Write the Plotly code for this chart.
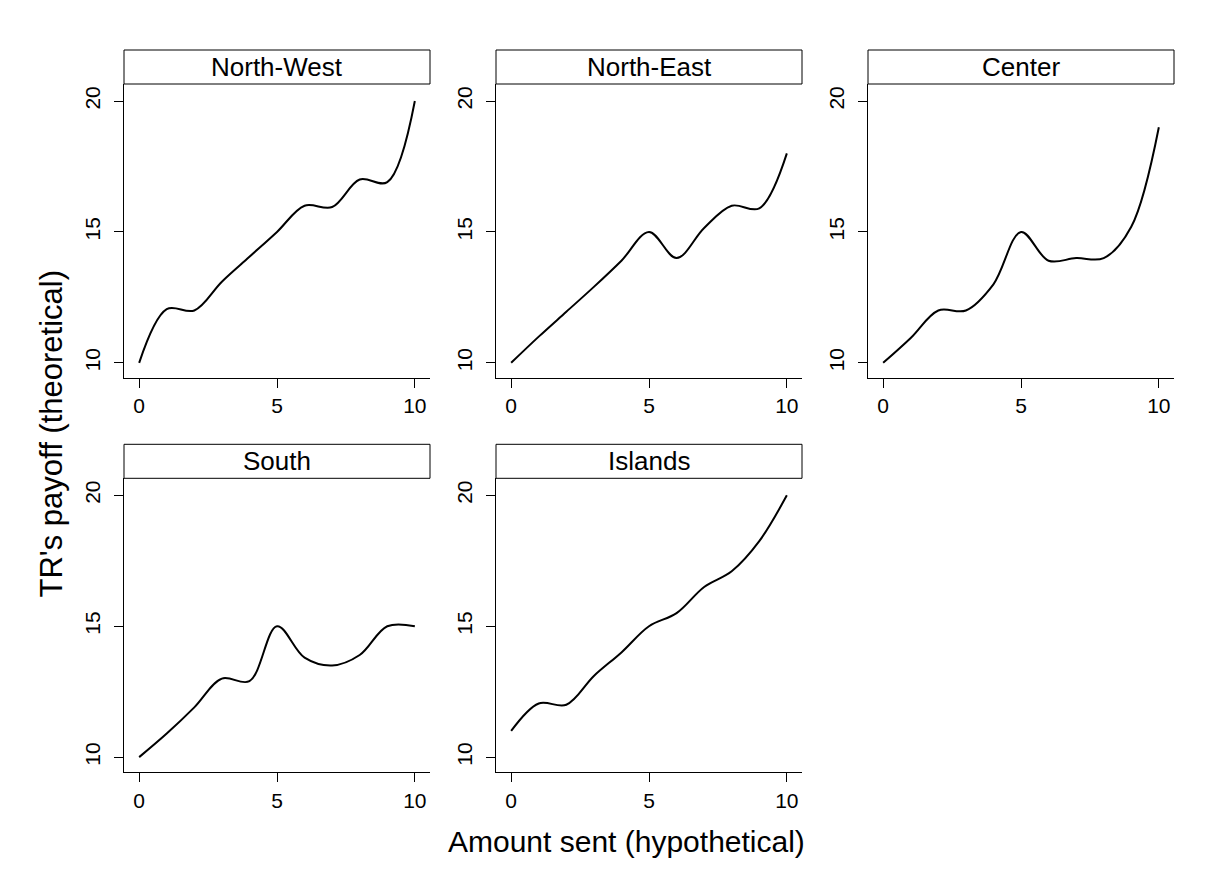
import plotly.graph_objects as go

# ---- data ----
x_sent = [0, 1, 2, 3, 4, 5, 6, 7, 8, 9, 10]
regions = ["North-West", "North-East", "Center", "South", "Islands"]
north_west = [10, 12.05, 12.0, 13.1, 14.05, 15.0, 16.0, 15.95, 17.0, 16.9, 20]
north_east = [10, 11.0, 11.95, 12.9, 13.9, 15.0, 14.0, 15.15, 16.0, 15.9, 18]
center = [10, 10.95, 12.0, 12.0, 13.0, 15.0, 13.9, 14.0, 14.0, 15.2, 19]
south = [10, 10.9, 11.9, 13.0, 12.9, 15.0, 13.8, 13.5, 13.9, 15.0, 15.0]
islands = [11, 12.05, 12.0, 13.1, 14.0, 15.0, 15.5, 16.5, 17.1, 18.25, 20]
series = [north_west, north_east, center, south, islands]
x_ticks = [0, 5, 10]
y_ticks = [10, 15, 20]

OFF = 8  # page body margin
W, H = 1213 - 2 * OFF, 885 - 2 * OFF
FONT = "Liberation Sans, Arial, Helvetica, sans-serif"

# panel pixel geometry (screen coords) per column and row
cols = [(124, 430), (496, 802), (868, 1174)]
rows = [(84, 378), (478.3, 772.3)]
header_h = 34

def px(x):
    return (x - OFF) / W

def py(y):
    return 1 - (y - OFF) / H

fig = go.Figure()
shapes = []
annotations = []
layout_axes = {}

for i, (name, vals) in enumerate(zip(regions, series)):
    r, c = divmod(i, 3)
    xl, xr = cols[c]
    yt, yb = rows[r]
    n = i + 1
    xa = "x" if n == 1 else f"x{n}"
    ya = "y" if n == 1 else f"y{n}"
    fig.add_trace(go.Scatter(
        x=x_sent, y=vals, mode="lines",
        line=dict(color="black", width=2, shape="spline", smoothing=1.0),
        xaxis=xa, yaxis=ya, showlegend=False, hoverinfo="skip"))
    xkey = "xaxis" if n == 1 else f"xaxis{n}"
    ykey = "yaxis" if n == 1 else f"yaxis{n}"
    layout_axes[xkey] = dict(
        domain=[px(xl), px(xr)], anchor=ya, range=[-0.55, 10.55],
        tickvals=x_ticks, ticks="outside", ticklen=9, tickwidth=1,
        tickcolor="black", showline=True, linecolor="black", linewidth=1,
        showgrid=False, zeroline=False, automargin=False,
        tickfont=dict(family=FONT, size=21, color="black"))
    layout_axes[ykey] = dict(
        domain=[py(yb), py(yt)], anchor=xa, range=[9.42, 20.65],
        tickvals=y_ticks, ticks="outside", ticklen=9, tickwidth=1,
        tickcolor="black", showline=True, linecolor="black", linewidth=1,
        showgrid=False, zeroline=False, automargin=False, tickangle=-90,
        ticklabelstandoff=6,
        tickfont=dict(family=FONT, size=21, color="black"))
    # header strip
    shapes.append(dict(type="rect", xref="paper", yref="paper",
                       x0=px(xl), x1=px(xr), y0=py(yt), y1=py(yt - header_h),
                       line=dict(color="black", width=1), fillcolor="white"))
    annotations.append(dict(text=name, xref="paper", yref="paper",
                            x=px((xl + xr) / 2), y=py(yt - header_h / 2),
                            xanchor="center", yanchor="middle", showarrow=False,
                            font=dict(family=FONT, size=26, color="black")))

annotations.append(dict(text="Amount sent (hypothetical)", xref="paper", yref="paper",
                        x=px(626.5), y=py(841), xanchor="center", yanchor="middle",
                        showarrow=False, font=dict(family=FONT, size=30, color="black")))
annotations.append(dict(text="TR's payoff (theoretical)", xref="paper", yref="paper",
                        x=px(51), y=py(433.5), xanchor="center", yanchor="middle",
                        textangle=-90, showarrow=False,
                        font=dict(family=FONT, size=31, color="black")))

fig.update_layout(
    width=W, height=H, margin=dict(l=0, r=0, t=0, b=0),
    paper_bgcolor="white", plot_bgcolor="white",
    shapes=shapes, annotations=annotations, **layout_axes)

fig.write_html("out.html")
